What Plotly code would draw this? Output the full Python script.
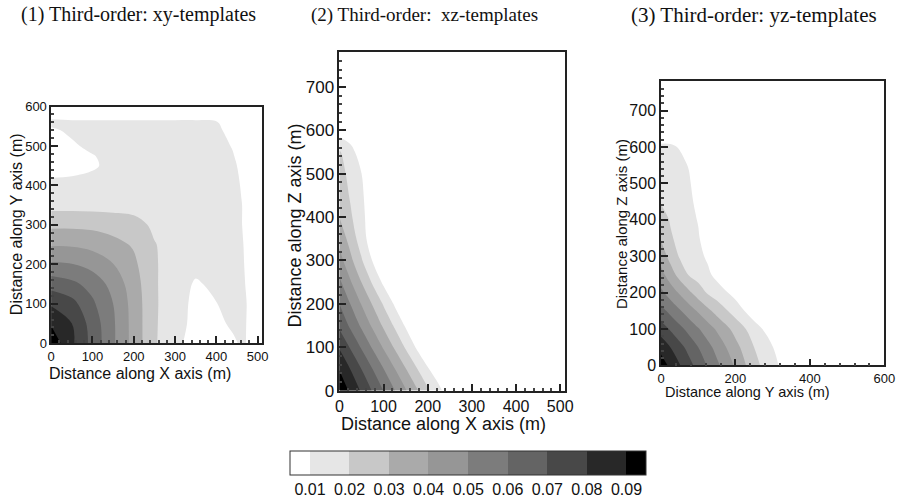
import plotly.graph_objects as go

# ---------------- data ----------------
LEVELS = [0.01, 0.02, 0.03, 0.04, 0.05, 0.06, 0.07, 0.08, 0.09]
LEVEL_LABELS = ["0.01", "0.02", "0.03", "0.04", "0.05", "0.06", "0.07", "0.08", "0.09"]
GRAYS = ["#ffffff", "#e6e6e6", "#c8c8c8", "#aaaaaa", "#969696",
         "#7c7c7c", "#646464", "#484848", "#282828", "#000000"]
TITLES = ["(1) Third-order: xy-templates",
          "(2) Third-order:  xz-templates",
          "(3) Third-order: yz-templates"]

# Panel 1: xy plane (x along X, y along Y), concentration grid
P1_X = [0, 50, 100, 150, 200, 250, 300, 350, 400, 440, 460, 480, 510]
P1_Y = [0, 50, 100, 150, 200, 250, 300, 350, 400, 450, 475, 500, 540, 560, 580, 600]
P1_C = [
    [0.097, 0.0818, 0.0667, 0.0515, 0.0364, 0.0212, 0.0125, 0.006, 0.006, 0.0085, 0.011, 0.0093, 0.004],
    [0.089, 0.0800, 0.0657, 0.0514, 0.0363, 0.0213, 0.0135, 0.0075, 0.0078, 0.0115, 0.0125, 0.0085, 0.004],
    [0.0787, 0.0733, 0.0617, 0.0500, 0.0361, 0.0213, 0.0145, 0.0075, 0.0098, 0.0125, 0.0125, 0.0088, 0.004],
    [0.0657, 0.0623, 0.0564, 0.0464, 0.0348, 0.0212, 0.0145, 0.009, 0.0118, 0.013, 0.0125, 0.0075, 0.004],
    [0.0515, 0.0504, 0.0464, 0.0403, 0.0321, 0.0211, 0.015, 0.0125, 0.013, 0.013, 0.0115, 0.0075, 0.004],
    [0.039, 0.0388, 0.037, 0.0332, 0.0289, 0.0205, 0.016, 0.0145, 0.014, 0.0135, 0.0112, 0.007, 0.004],
    [0.0278, 0.0279, 0.0273, 0.0257, 0.0235, 0.0182, 0.0165, 0.015, 0.0145, 0.0135, 0.0105, 0.0065, 0.004],
    [0.0167, 0.0167, 0.0166, 0.0165, 0.0163, 0.016, 0.0158, 0.015, 0.0145, 0.0135, 0.0105, 0.0065, 0.004],
    [0.0118, 0.0122, 0.0135, 0.0145, 0.015, 0.015, 0.015, 0.0145, 0.014, 0.0135, 0.0095, 0.0065, 0.004],
    [0.0072, 0.0075, 0.0088, 0.0125, 0.0145, 0.0145, 0.0145, 0.014, 0.0135, 0.0115, 0.0085, 0.0055, 0.004],
    [0.0074, 0.0078, 0.0095, 0.013, 0.0142, 0.0142, 0.0142, 0.0138, 0.0132, 0.0105, 0.0075, 0.005, 0.004],
    [0.0078, 0.0086, 0.0122, 0.0135, 0.014, 0.014, 0.014, 0.0135, 0.013, 0.0095, 0.0065, 0.005, 0.004],
    [0.0085, 0.0118, 0.0125, 0.0125, 0.0125, 0.0125, 0.0125, 0.0125, 0.0115, 0.0075, 0.005, 0.0045, 0.004],
    [0.0125, 0.0115, 0.0115, 0.0115, 0.0115, 0.0115, 0.0115, 0.0115, 0.0105, 0.006, 0.0045, 0.004, 0.004],
    [0.006, 0.006, 0.006, 0.006, 0.006, 0.006, 0.006, 0.006, 0.006, 0.005, 0.004, 0.004, 0.004],
    [0.004, 0.004, 0.004, 0.004, 0.004, 0.004, 0.004, 0.004, 0.004, 0.004, 0.004, 0.004, 0.004],
]

# Panel 2: xz plane
P2_X = [0, 25, 50, 75, 100, 125, 150, 175, 200, 225, 250, 300, 510]
P2_Z = [0, 50, 100, 150, 200, 250, 300, 350, 400, 450, 500, 550, 600, 780]
P2_C = [
    [0.0975, 0.088, 0.0786, 0.0692, 0.0597, 0.0502, 0.0408, 0.0314, 0.0219, 0.0125, 0.004, 0.003, 0.003],
    [0.0895, 0.0797, 0.0698, 0.060, 0.0501, 0.0403, 0.0304, 0.0206, 0.0107, 0.004, 0.003, 0.003, 0.003],
    [0.079, 0.069, 0.059, 0.0489, 0.0389, 0.0289, 0.0189, 0.0088, 0.0035, 0.003, 0.003, 0.003, 0.003],
    [0.068, 0.0581, 0.0483, 0.0384, 0.0285, 0.0187, 0.0088, 0.004, 0.003, 0.003, 0.003, 0.003, 0.003],
    [0.060, 0.0498, 0.0395, 0.0293, 0.019, 0.0088, 0.004, 0.003, 0.003, 0.003, 0.003, 0.003, 0.003],
    [0.052, 0.041, 0.0299, 0.0188, 0.008, 0.0035, 0.003, 0.003, 0.003, 0.003, 0.003, 0.003, 0.003],
    [0.044, 0.0325, 0.021, 0.0095, 0.0035, 0.003, 0.003, 0.003, 0.003, 0.003, 0.003, 0.003, 0.003],
    [0.037, 0.026, 0.0149, 0.004, 0.003, 0.003, 0.003, 0.003, 0.003, 0.003, 0.003, 0.003, 0.003],
    [0.030, 0.0215, 0.0128, 0.004, 0.003, 0.003, 0.003, 0.003, 0.003, 0.003, 0.003, 0.003, 0.003],
    [0.0265, 0.019, 0.0115, 0.004, 0.003, 0.003, 0.003, 0.003, 0.003, 0.003, 0.003, 0.003, 0.003],
    [0.024, 0.017, 0.0101, 0.003, 0.003, 0.003, 0.003, 0.003, 0.003, 0.003, 0.003, 0.003, 0.003],
    [0.021, 0.0135, 0.005, 0.003, 0.003, 0.003, 0.003, 0.003, 0.003, 0.003, 0.003, 0.003, 0.003],
    [0.0053, 0.004, 0.003, 0.003, 0.003, 0.003, 0.003, 0.003, 0.003, 0.003, 0.003, 0.003, 0.003],
    [0.003, 0.003, 0.003, 0.003, 0.003, 0.003, 0.003, 0.003, 0.003, 0.003, 0.003, 0.003, 0.003],
]

# Panel 3: yz plane
P3_Y = [0, 25, 50, 75, 100, 125, 150, 200, 250, 300, 350, 400, 600]
P3_Z = [0, 50, 100, 150, 200, 250, 300, 350, 400, 450, 500, 550, 600, 650, 780]
P3_C = [
    [0.0951, 0.0879, 0.0806, 0.0734, 0.0663, 0.0591, 0.0522, 0.0386, 0.0235, 0.0127, 0.004, 0.003, 0.003],
    [0.0867, 0.080, 0.0733, 0.0667, 0.060, 0.0533, 0.0467, 0.0333, 0.020, 0.0102, 0.004, 0.003, 0.003],
    [0.075, 0.069, 0.0629, 0.0568, 0.0508, 0.0447, 0.0387, 0.0265, 0.0148, 0.004, 0.003, 0.003, 0.003],
    [0.0633, 0.0572, 0.051, 0.0448, 0.0387, 0.0325, 0.0264, 0.0155, 0.004, 0.003, 0.003, 0.003, 0.003],
    [0.0522, 0.0454, 0.0387, 0.0319, 0.0251, 0.019, 0.015, 0.0065, 0.003, 0.003, 0.003, 0.003, 0.003],
    [0.0433, 0.0347, 0.0262, 0.0191, 0.0156, 0.0121, 0.007, 0.003, 0.003, 0.003, 0.003, 0.003, 0.003],
    [0.0357, 0.0266, 0.0191, 0.0158, 0.0126, 0.0085, 0.004, 0.003, 0.003, 0.003, 0.003, 0.003, 0.003],
    [0.029, 0.0212, 0.0173, 0.0141, 0.0109, 0.005, 0.003, 0.003, 0.003, 0.003, 0.003, 0.003, 0.003],
    [0.0239, 0.0193, 0.0161, 0.0128, 0.0095, 0.004, 0.003, 0.003, 0.003, 0.003, 0.003, 0.003, 0.003],
    [0.0193, 0.017, 0.015, 0.0125, 0.007, 0.003, 0.003, 0.003, 0.003, 0.003, 0.003, 0.003, 0.003],
    [0.0164, 0.015, 0.0135, 0.0112, 0.005, 0.003, 0.003, 0.003, 0.003, 0.003, 0.003, 0.003, 0.003],
    [0.0135, 0.013, 0.0123, 0.0095, 0.004, 0.003, 0.003, 0.003, 0.003, 0.003, 0.003, 0.003, 0.003],
    [0.0113, 0.0112, 0.0095, 0.004, 0.003, 0.003, 0.003, 0.003, 0.003, 0.003, 0.003, 0.003, 0.003],
    [0.004, 0.004, 0.004, 0.003, 0.003, 0.003, 0.003, 0.003, 0.003, 0.003, 0.003, 0.003, 0.003],
    [0.003, 0.003, 0.003, 0.003, 0.003, 0.003, 0.003, 0.003, 0.003, 0.003, 0.003, 0.003, 0.003],
]

# ---------------- figure ----------------
W, H = 913, 502
SANS = "Liberation Sans"
SERIF = "Liberation Serif"
colorscale = [[i / (len(GRAYS) - 1), g] for i, g in enumerate(GRAYS)]
contours = dict(start=LEVELS[0], end=LEVELS[-1], size=0.01, coloring="fill", showlines=False)

fig = go.Figure()


def add_panel(x, y, z, xa, ya, show):
    fig.add_trace(go.Contour(
        x=x, y=y, z=z, xaxis=xa, yaxis=ya,
        colorscale=colorscale, autocontour=False, contours=contours,
        line=dict(width=0), showscale=show, hoverinfo="skip",
        colorbar=dict(
            orientation="h", x=472 / W, xanchor="center",
            y=1 - 460 / H, yanchor="top", len=356, lenmode="pixels",
            thickness=24, outlinecolor="#333333", outlinewidth=1,
            tickvals=LEVELS, ticktext=LEVEL_LABELS, ticks="",
            tickfont=dict(family=SANS, size=16, color="#111111"),
            xpad=0, ypad=0,
        ),
    ))


add_panel(P1_X, P1_Y, P1_C, "x", "y", True)
add_panel(P2_X, P2_Z, P2_C, "x2", "y2", False)
add_panel(P3_Y, P3_Z, P3_C, "x3", "y3", False)


def ax(domain, rng, dtick, mdtick, fsize):
    return dict(
        domain=domain, range=rng, dtick=dtick, tick0=0,
        showline=True, linecolor="#222222", linewidth=1.5, mirror=True,
        ticks="inside", ticklen=7, tickwidth=1.5, tickcolor="#222222",
        minor=dict(ticks="inside", ticklen=3, dtick=mdtick, tickcolor="#444444", showgrid=False),
        showgrid=False, zeroline=False,
        tickfont=dict(family=SANS, size=fsize, color="#111111"),
    )


fig.update_layout(
    width=W, height=H, margin=dict(l=0, r=0, t=0, b=0),
    paper_bgcolor="white", plot_bgcolor="white", showlegend=False,
    xaxis=dict(ax([48 / W, 262 / W], [0, 510], 100, 20, 13), anchor="y"),
    yaxis=dict(ax([1 - 348 / H, 1 - 103 / H], [0, 600], 100, 20, 13), anchor="x"),
    xaxis2=dict(ax([341 / W, 570 / W], [0, 510], 100, 20, 16), anchor="y2"),
    yaxis2=dict(ax([1 - 397 / H, 1 - 47 / H], [0, 780], 100, 20, 17), anchor="x2"),
    xaxis3=dict(ax([668 / W, 895 / W], [0, 600], 200, 40, 13), anchor="y3"),
    yaxis3=dict(ax([1 - 371 / H, 1 - 77 / H], [0, 780], 100, 20, 16), anchor="x3"),
)

annos = [
    (TITLES[0], 137, 8, 0, SERIF, 20),
    (TITLES[1], 428, 8, 0, SERIF, 19),
    (TITLES[2], 763, 8, 0, SERIF, 21),
    ("Distance along X axis (m)", 138, 379, 0, SANS, 16),
    ("Distance along Y axis (m)", 13, 225, -90, SANS, 16),
    ("Distance along X axis (m)", 447, 432, 0, SANS, 18),
    ("Distance along Z axis (m)", 296, 226, -90, SANS, 18),
    ("Distance along Y axis (m)", 756, 399, 0, SANS, 14.5),
    ("Distance along Z axis (m)", 628, 225, -90, SANS, 15),
]
for text, px, py, ang, fam, size in annos:
    fig.add_annotation(
        text=text, x=px / W, y=1 - py / H, xref="paper", yref="paper",
        xanchor="center", yanchor="middle", showarrow=False, textangle=ang,
        font=dict(family=fam, size=size, color="#111111"),
    )

fig.write_html("out.html")
